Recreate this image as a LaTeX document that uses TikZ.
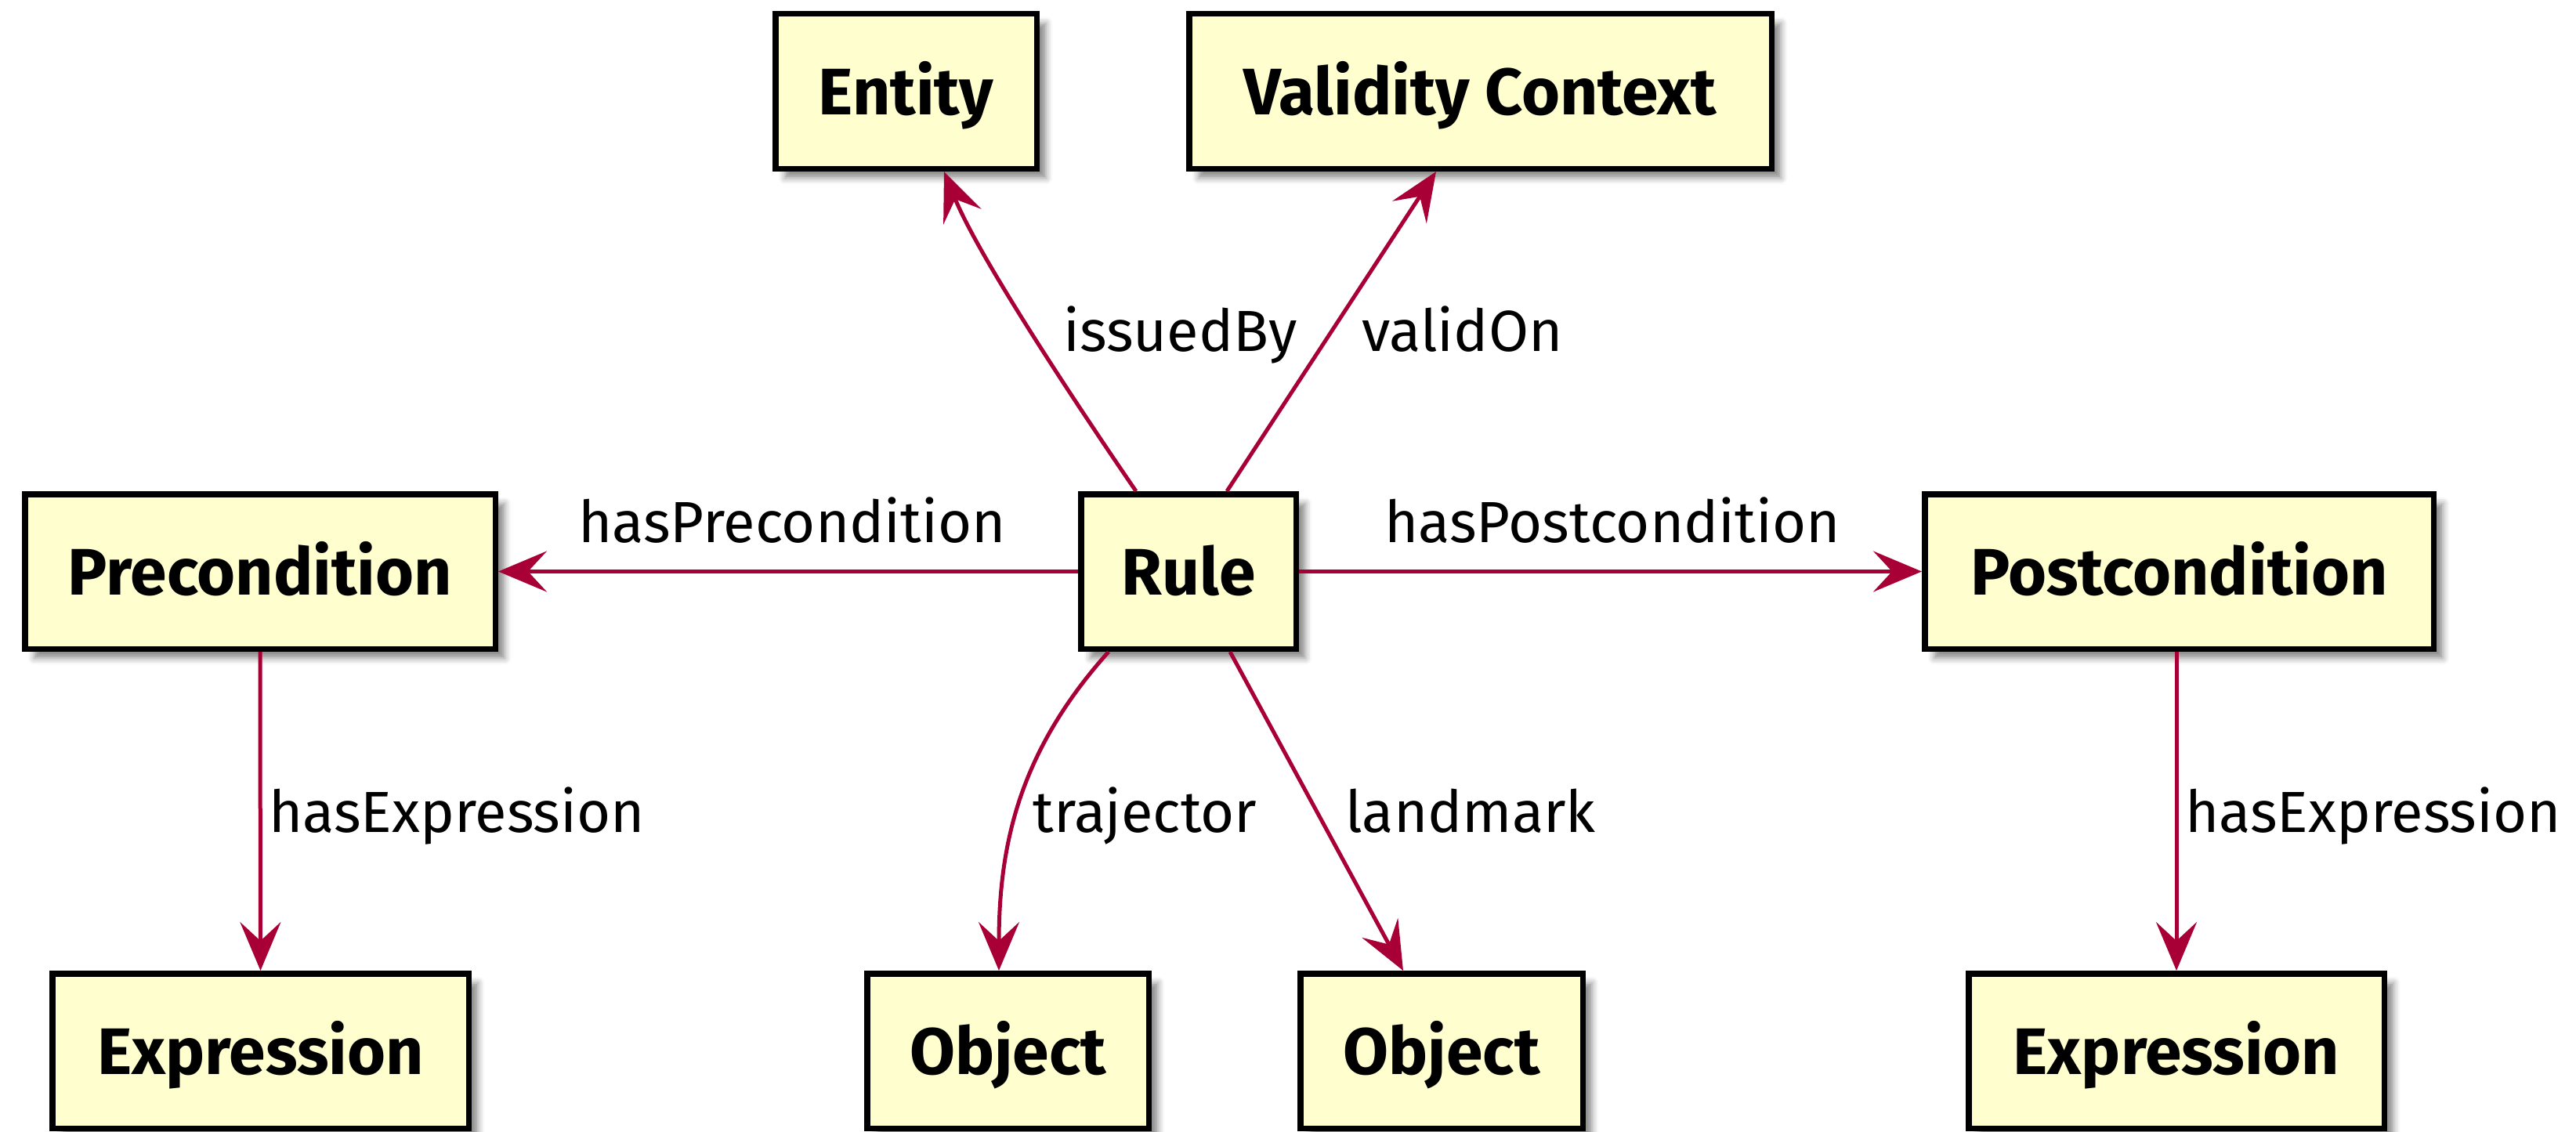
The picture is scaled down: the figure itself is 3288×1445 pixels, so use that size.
\documentclass[tikz,border=0pt]{standalone}
\usepackage{fontspec}
\setmainfont{Fira Sans}
\usetikzlibrary{arrows.meta,calc,shadows.blur}
\definecolor{boxfill}{HTML}{FEFECE}
\definecolor{linkred}{HTML}{A80036}
\tikzset{
  cls/.style={draw=black, line width=3.75pt, fill=boxfill, inner sep=0pt,
    minimum height=98.75pt, text height=30pt, text depth=0pt,
    font=\fontsize{42}{50}\selectfont\bfseries,
    blur shadow={shadow xshift=6pt, shadow yshift=-6pt, shadow blur radius=4pt,
      shadow opacity=45}},
  link/.style={draw=linkred, line width=2.5pt,
    -{Stealth[length=31pt, width=26pt, inset=12pt]}},
  lbl/.style={anchor=base west, inner sep=0pt, font=\fontsize{37}{44}\selectfont}
}
\begin{document}
\begin{tikzpicture}[x=0.5pt, y=-0.5pt]
\useasboundingbox (0,0) rectangle (3288,1445);

% classes
\node[cls, minimum width=166.75pt] (entity) at (1156.5,116.5) {Entity};
\node[cls, minimum width=371.75pt] (vc) at (1889.5,116.5) {Validity Context};
\node[cls, minimum width=137.25pt] (rule) at (1517,729.5) {Rule};
\node[cls, minimum width=300.25pt] (pre) at (332,729.5) {Precondition};
\node[cls, minimum width=324.75pt] (post) at (2781.5,729.5) {Postcondition};
\node[cls, minimum width=265.75pt] (exprL) at (332.5,1341.5) {Expression};
\node[cls, minimum width=179.75pt] (obj1) at (1286.5,1341.5) {Object};
\node[cls, minimum width=180.25pt] (obj2) at (1840,1341.5) {Object};
\node[cls, minimum width=265.25pt] (exprR) at (2778,1341.5) {Expression};

% relations
\draw[link] (rule.west) -- (pre.east);
\draw[link] (rule.east) -- (post.west);
\draw[link] ($(rule.north)+(-67,0)$) .. controls (1380,525) and (1250,330) .. ($(entity.south)+(48.5,0)$);
\draw[link] ($(rule.north)+(49,0)$) -- ($(vc.south)+(-56.5,0)$);
\draw[link] ($(rule.south)+(-102,0)$) .. controls (1300,960) and (1275,1080) .. ($(obj1.north)+(-11.5,0)$);
\draw[link] ($(rule.south)+(53,0)$) -- ($(obj2.north)+(-49,0)$);
\draw[link] (pre.south) -- (exprL.north);
\draw[link] (exprR.north |- post.south) -- (exprR.north);

% relation names
\node[lbl] (lpre) at (738,692) {hasPrecondition};
\node[lbl] (lpost) at (1767,692) {hasPostcondition};
\node[lbl] (lissued) at (1357,448) {issuedBy};
\node[lbl] (lvalid) at (1738,448) {validOn};
\node[lbl] (ltraj) at (1318,1062) {trajector};
\node[lbl] (lland) at (1717,1062) {landmark};
\node[lbl] (lexprL) at (343,1062) {hasExpression};
\node[lbl] (lexprR) at (2789,1062) {hasExpression};
\end{tikzpicture}
\end{document}
